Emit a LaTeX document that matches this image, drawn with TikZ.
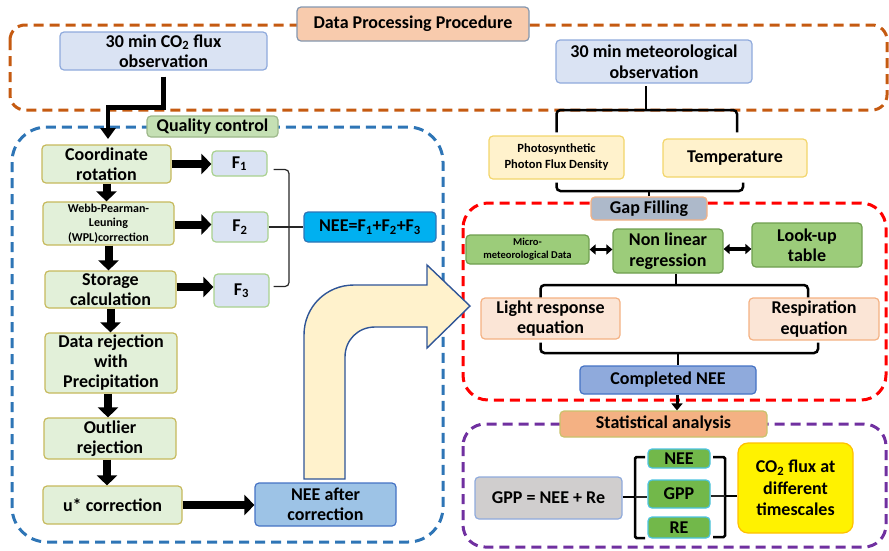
\documentclass[tikz,border=0pt]{standalone}
\usepackage{fontspec}
\setmainfont{Carlito}
\usetikzlibrary{arrows.meta}
\definecolor{cOrange}{HTML}{C55A11}
\definecolor{cBlue}{HTML}{2E75B6}
\definecolor{cRed}{HTML}{FF0000}
\definecolor{cPurple}{HTML}{7030A0}
\definecolor{lbFill}{HTML}{DAE3F3}
\definecolor{lbLine}{HTML}{8FAADC}
\definecolor{lgFill}{HTML}{E2F0D9}
\definecolor{lgLine}{HTML}{C6B95C}
\definecolor{fLine}{HTML}{A9D18E}
\definecolor{neeFill}{HTML}{00B0F0}
\definecolor{qcFill}{HTML}{C5E0B4}
\definecolor{qcLine}{HTML}{9DB88A}
\definecolor{dpFill}{HTML}{F8CBAD}
\definecolor{dpLine}{HTML}{8497B0}
\definecolor{yFill}{HTML}{FFF2CC}
\definecolor{yLine}{HTML}{F2D56B}
\definecolor{gapFill}{HTML}{ADB9CA}
\definecolor{gapLine}{HTML}{F4B183}
\definecolor{gFill}{HTML}{9CCC7A}
\definecolor{gLine}{HTML}{6E9E4E}
\definecolor{pFill}{HTML}{FBE5D6}
\definecolor{pLine}{HTML}{F4B183}
\definecolor{cneeFill}{HTML}{8FAADC}
\definecolor{dbLine}{HTML}{4472C4}
\definecolor{neeacFill}{HTML}{9DC3E6}
\definecolor{statFill}{HTML}{F4B183}
\definecolor{statLine}{HTML}{C9C26B}
\definecolor{grayFill}{HTML}{D0CECE}
\definecolor{sFill}{HTML}{72B84A}
\definecolor{sLine}{HTML}{4BC3E0}
\definecolor{yelLine}{HTML}{FFC000}
\definecolor{uFill}{HTML}{FFF2CC}
\definecolor{uLine}{HTML}{2F5597}
\definecolor{brLine}{HTML}{262626}
\tikzset{
  box/.style={draw, line width=1.2pt, rounded corners=4pt, align=center, inner sep=0pt,
    font=\bfseries\fontsize{18}{20.5}\selectfont},
  smallbox/.style={box, font=\bfseries\fontsize{12}{14.5}\selectfont},
  cont/.style={dash pattern=on 10pt off 6pt, line width=3pt},
  barrow/.style={line width=8pt, -{Triangle[length=10pt,width=20pt]}},
  elbow/.style={line width=4.5pt, -{Triangle[length=11pt,width=15pt]}},
  darrow/.style={line width=3.5pt, {Triangle[length=6pt,width=10pt]}-{Triangle[length=6pt,width=10pt]}},
  brc/.style={line width=2.5pt, rounded corners=4pt},
  thinl/.style={line width=1.2pt, draw=brLine},
}
\begin{document}
\begin{tikzpicture}[x=1pt,y=-1pt]
\useasboundingbox (0,0) rectangle (889,550);
% dashed containers
\draw[cont, draw=cOrange, rounded corners=15pt] (10,25) rectangle (887,110);
\draw[cont, draw=cBlue, rounded corners=35pt] (12,127) rectangle (443,542);
\draw[cont, draw=cRed, rounded corners=25pt] (463,203) rectangle (886,400);
\draw[cont, draw=cPurple, rounded corners=22pt] (463,424) rectangle (886,547);

% U-turn arrow
\draw[fill=uFill, draw=uLine, line width=1.4pt, line join=miter]
  (304,479) -- (304,335) .. controls (304,307) and (326,285) .. (354,285)
  -- (427,285) -- (427,265) -- (470,306) -- (427,348) -- (427,327) -- (375,327)
  .. controls (358,327) and (345,340) .. (345,357) -- (345,479) -- cycle;

% labels on containers
\node[box, fill=dpFill, draw=dpLine, minimum width=232pt, minimum height=34pt] (dp) at (413,24) {Data Processing Procedure};
\node[box, fill=qcFill, draw=qcLine, minimum width=131pt, minimum height=21pt] (qc) at (212.5,126.5) {Quality control};
\node[box, fill=gapFill, draw=gapLine, minimum width=116pt, minimum height=23pt] (gap) at (649,208.5) {Gap Filling};
\node[box, fill=statFill, draw=statLine, minimum width=207pt, minimum height=26pt] (stat) at (663.5,424) {Statistical analysis};

% top observations
\node[box, fill=lbFill, draw=lbLine, minimum width=207pt, minimum height=38pt] (co2obs) at (163.5,51) {30 min CO\textsubscript{2} flux\\observation};
\node[box, fill=lbFill, draw=lbLine, minimum width=196pt, minimum height=43pt] (metobs) at (654,61.5) {30 min meteorological\\observation};
\node[box, font=\bfseries\fontsize{12.5}{16}\selectfont, fill=yFill, draw=yLine, minimum width=135pt, minimum height=43pt] (ppfd) at (556.5,157.5) {Photosynthetic\\Photon Flux Density};
\node[box, fill=yFill, draw=yLine, minimum width=144pt, minimum height=38pt] (temp) at (735,158) {Temperature};

% quality control column
\node[box, fill=lgFill, draw=lgLine, minimum width=129pt, minimum height=38pt] (cr) at (106.5,164) {Coordinate\\rotation};
\node[smallbox, fill=lgFill, draw=lgLine, minimum width=131pt, minimum height=43pt] (wpl) at (108.5,223.5) {Webb-Pearman-\\Leuning\\(WPL)correction};
\node[box, fill=lgFill, draw=lgLine, minimum width=131pt, minimum height=37pt] (stor) at (110.5,289.5) {Storage\\calculation};
\node[box, font=\bfseries\fontsize{18}{20}\selectfont, fill=lgFill, draw=lgLine, minimum width=132pt, minimum height=60pt] (drp) at (111,363) {Data rejection\\with\\Precipitation};
\node[box, fill=lgFill, draw=lgLine, minimum width=132pt, minimum height=41pt] (outl) at (110,438.5) {Outlier\\rejection};
\node[box, fill=lgFill, draw=lgLine, minimum width=139pt, minimum height=38pt] (ustar) at (112.5,505) {u* correction};

\node[box, fill=lbFill, draw=fLine, minimum width=55pt, minimum height=25pt] (f1) at (239.5,163.5) {F\textsubscript{1}};
\node[box, fill=lbFill, draw=fLine, minimum width=56pt, minimum height=30pt] (f2) at (240,227) {F\textsubscript{2}};
\node[box, fill=lbFill, draw=fLine, minimum width=55pt, minimum height=33pt] (f3) at (241.5,290.5) {F\textsubscript{3}};
\node[box, fill=neeFill, draw=cBlue, minimum width=132pt, minimum height=30pt] (nee) at (370,227) {NEE=F\textsubscript{1}+F\textsubscript{2}+F\textsubscript{3}};
\node[box, fill=neeacFill, draw=dbLine, minimum width=141pt, minimum height=43pt] (neeac) at (325.5,504.5) {NEE after\\correction};

% gap filling
\node[box, font=\bfseries\fontsize{10.5}{13}\selectfont, fill=gFill, draw=gLine, minimum width=123pt, minimum height=29pt] (micro) at (527.5,249.5) {Micro-\\meteorological Data};
\node[box, fill=gFill, draw=gLine, minimum width=110pt, minimum height=44pt] (nlr) at (668,251) {Non linear\\regression};
\node[box, fill=gFill, draw=gLine, minimum width=110pt, minimum height=44pt] (lut) at (807,245) {Look-up\\table};
\node[box, fill=pFill, draw=pLine, minimum width=139pt, minimum height=41pt] (lre) at (550.5,318.5) {Light response\\equation};
\node[box, fill=pFill, draw=pLine, minimum width=130pt, minimum height=42pt] (reeq) at (814,319) {Respiration\\equation};
\node[box, fill=cneeFill, draw=dbLine, minimum width=176pt, minimum height=28pt] (cnee) at (668,380) {Completed NEE};

% statistical analysis
\node[box, fill=grayFill, draw=lbLine, minimum width=147pt, minimum height=42pt] (gppeq) at (548.5,498) {GPP = NEE + Re};
\node[box, fill=sFill, draw=sLine, minimum width=62pt, minimum height=19pt] (sNEE) at (679,458.5) {NEE};
\node[box, fill=sFill, draw=sLine, minimum width=62pt, minimum height=28pt] (sGPP) at (679,494) {GPP};
\node[box, fill=sFill, draw=sLine, minimum width=62pt, minimum height=21pt] (sRE) at (679,527.5) {RE};
\node[box, rounded corners=10pt, font=\bfseries\fontsize{18}{21.5}\selectfont, fill=yellow, draw=yelLine, minimum width=115pt, minimum height=90pt] (co2ts) at (795.5,488) {CO\textsubscript{2} flux at\\different\\timescales};

% connectors: quality control chain
\draw[elbow, shorten >=6pt] (co2obs.south) ++(0,6) -- ++(0,31) -| (108,145);
\draw[barrow] (cr.south) -- (cr.south |- wpl.north);
\draw[barrow] (wpl.south) -- (wpl.south |- stor.north);
\draw[barrow] (stor.south) -- (stor.south |- drp.north);
\draw[barrow] ([xshift=-3pt]drp.south) -- ([xshift=-3pt]drp.south |- outl.north);
\draw[barrow] ([xshift=-3pt]outl.south) -- ([xshift=-3pt]outl.south |- ustar.north);
\draw[barrow] (cr.east) -- (cr.east -| f1.west);
\draw[barrow] ([yshift=-1pt]wpl.east) -- ([yshift=-1pt]wpl.east -| f2.west);
\draw[barrow] ([yshift=2.5pt]stor.east) -- ([yshift=2.5pt]stor.east -| f3.west);
\draw[barrow] (ustar.east) -- (ustar.east -| neeac.west);

% F bracket
\coordinate (fb) at (289,227);
\draw[thinl, rounded corners=4pt] ([shift={(6pt,-6pt)}]f1.east) -| (fb) |- ([shift={(4pt,4pt)}]f3.east);
\draw[thinl] (f2.east) -- (nee.west);

% meteorological braces
\coordinate (mb) at (646,110);
\draw[brc] ([yshift=3pt]ppfd.north) |- (mb) -| ([yshift=6pt,xshift=2pt]temp.north);
\draw[line width=2.5pt] (mb) -- ++(0,-24);
\coordinate (pb) at (649,191);
\draw[brc] ([yshift=-3pt]ppfd.south) |- (pb) -| ([yshift=-5pt,xshift=8pt]temp.south);
\draw[line width=2.5pt] (pb) -- (pb |- gap.north);

% gap filling connectors
\draw[darrow] (micro.east) -- (micro.east -| nlr.west);
\draw[darrow] ([yshift=2pt]nlr.east) -- ([yshift=2pt]nlr.east -| lut.west);
\coordinate (nb) at (676,285);
\draw[line width=2.5pt] ([xshift=8pt]nlr.south) -- (nb);
\draw[brc] ([xshift=-10pt]lre.north) |- (nb) -| ([xshift=-6pt]reeq.north);
\coordinate (lb2) at (678,353);
\draw[brc] ([xshift=-10pt,yshift=-3pt]lre.south) |- (lb2) -| ([xshift=4pt,yshift=-2pt]reeq.south);
\draw[line width=2.5pt] (lb2) -- (lb2 |- cnee.north);
\draw[line width=3pt, -{Triangle[length=7pt,width=11pt]}] ([xshift=9pt]cnee.south) -- ([xshift=9pt]cnee.south |- stat.north);

% statistical braces
\draw[line width=2.5pt, rounded corners=1.5pt] (645,457) -- (635,457) -- (635,538) -- (645,538);
\coordinate (lbr) at (635,497);
\draw[line width=2.5pt] (gppeq.east |- lbr) -- (lbr);
\draw[thinl] (lbr) -- (lbr -| sGPP.west);
\draw[line width=2.5pt, rounded corners=1.5pt] (713,457) -- (725,457) -- (725,537) -- (713,537);
\coordinate (rbr) at (725,496);
\draw[thinl] (sGPP.east |- rbr) -- (rbr);
\draw[line width=2.5pt] (rbr) -- (rbr -| co2ts.west);
\end{tikzpicture}
\end{document}
